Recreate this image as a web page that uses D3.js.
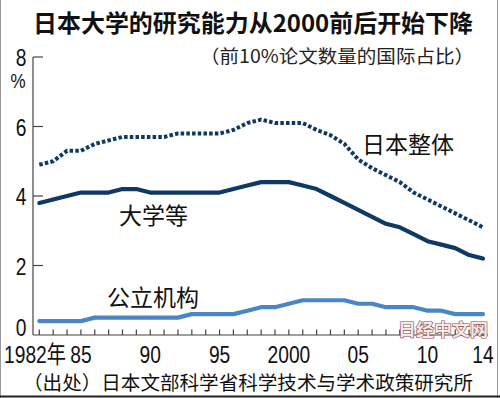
<!DOCTYPE html>
<html><head><meta charset="utf-8">
<script src="https://cdn.jsdelivr.net/npm/d3@7"></script>
<style>
html,body{margin:0;padding:0;background:#fff;}
svg{display:block;}
text{font-family:"Liberation Sans","Noto Sans CJK SC",sans-serif;}
.cjk{font-family:"Noto Sans CJK SC",sans-serif;}
</style></head>
<body>
<script>
const years = d3.range(1982, 2015);
const japanTotal = [4.9,5.0,5.3,5.3,5.5,5.6,5.7,5.7,5.7,5.7,5.8,5.8,5.8,5.8,5.9,6.1,6.2,6.1,6.1,6.1,5.9,5.75,5.5,5.05,4.8,4.6,4.4,4.1,3.9,3.7,3.5,3.3,3.1];
const universities = [3.8,3.9,4.0,4.1,4.1,4.1,4.2,4.2,4.1,4.1,4.1,4.1,4.1,4.1,4.2,4.3,4.4,4.4,4.4,4.3,4.2,4.0,3.8,3.6,3.4,3.2,3.1,2.9,2.7,2.6,2.5,2.3,2.2];
const publicInst = [0.4,0.4,0.4,0.4,0.5,0.5,0.5,0.5,0.5,0.5,0.5,0.6,0.6,0.6,0.6,0.7,0.8,0.8,0.9,1.0,1.0,1.0,1.0,0.9,0.9,0.8,0.8,0.8,0.7,0.7,0.6,0.6,0.6];
const yTicks = [0,2,4,6,8];
const xTickLabels = [[1982,"1982年"],[1985,"85"],[1990,"90"],[1995,"95"],[2000,"2000"],[2005,"05"],[2010,"10"],[2014,"14"]];
const title = "日本大学的研究能力从2000前后开始下降";
const subtitle = "（前10%论文数量的国际占比）";
const source = "（出处）日本文部科学省科学技术与学术政策研究所";

const W = 500, H = 398;
const svg = d3.select("body").append("svg").attr("width", W).attr("height", H);

// frame
svg.append("line").attr("x1",0.5).attr("x2",0.5).attr("y1",0).attr("y2",H).attr("stroke","#9a9a9a").attr("stroke-width",1);
svg.append("line").attr("x1",497.5).attr("x2",497.5).attr("y1",0).attr("y2",H).attr("stroke","#9a9a9a").attr("stroke-width",1);
svg.append("line").attr("x1",0).attr("x2",W).attr("y1",396.5).attr("y2",396.5).attr("stroke","#222").attr("stroke-width",2);

const x = d3.scaleLinear().domain([1982, 2014]).range([39.3, 483]);
const y = d3.scaleLinear().domain([0, 8]).range([335, 57]);

// title
svg.append("text").attr("class","cjk").attr("x",33).attr("y",32).attr("font-size",24).attr("font-weight","bold")
  .attr("fill","#111").attr("textLength",440).attr("lengthAdjust","spacingAndGlyphs").text(title);
svg.append("text").attr("class","cjk").attr("x",200).attr("y",63).attr("font-size",18.5)
  .attr("fill","#222").attr("textLength",274).attr("lengthAdjust","spacingAndGlyphs").text(subtitle);

// axes
const axisColor = "#444";
svg.append("line").attr("x1",33).attr("x2",33).attr("y1",y(8)).attr("y2",y(0)).attr("stroke",axisColor).attr("stroke-width",1.2);
svg.append("line").attr("x1",33).attr("x2",488).attr("y1",y(0)).attr("y2",y(0)).attr("stroke",axisColor).attr("stroke-width",1.2);
svg.selectAll(".yt").data(yTicks.filter(d=>d>0)).enter().append("line")
  .attr("x1",33).attr("x2",43).attr("y1",d=>y(d)).attr("y2",d=>y(d)).attr("stroke",axisColor).attr("stroke-width",1.2);
svg.selectAll(".xt").data(years).enter().append("line")
  .attr("x1",d=>x(d)).attr("x2",d=>x(d)).attr("y1",y(0)-5.5).attr("y2",y(0)).attr("stroke",axisColor).attr("stroke-width",1.2);

svg.selectAll(".yl").data(yTicks).enter().append("text")
  .attr("transform",d=>`translate(21,${d===0 ? y(d)+0.5 : y(d)+9}) scale(0.8,1)`)
  .attr("text-anchor","middle").attr("font-size",24).attr("fill","#111").text(d=>d);
svg.append("text").attr("transform","translate(18,88) scale(0.85,1)").attr("text-anchor","middle").attr("font-size",20).attr("fill","#111").text("%");

svg.selectAll(".xl").data(xTickLabels).enter().append("text")
  .attr("transform",d=>`translate(${d[0]===1982 ? 35 : x(d[0])},363) scale(0.8,1)`)
  .attr("text-anchor","middle").attr("font-size",24).attr("fill","#111")
  .text(d=>d[1]);

// source
svg.append("text").attr("class","cjk").attr("x",23).attr("y",390).attr("font-size",19.5).attr("fill","#111")
  .attr("textLength",450).attr("lengthAdjust","spacingAndGlyphs").text(source);

// lines
const line = d3.line().x((d,i)=>x(years[i])).y(d=>y(d));
svg.append("path").datum(publicInst).attr("d",line).attr("fill","none").attr("stroke","#4a86c6").attr("stroke-width",4.2).attr("stroke-linejoin","round").attr("stroke-linecap","round");
svg.append("path").datum(universities).attr("d",line).attr("fill","none").attr("stroke","#0e3964").attr("stroke-width",4.2).attr("stroke-linejoin","round").attr("stroke-linecap","round");
svg.append("path").datum(japanTotal).attr("d",line).attr("fill","none").attr("stroke","#0e3964").attr("stroke-width",4).attr("stroke-dasharray","3.5,2.2");

// series labels
svg.append("text").attr("class","cjk").attr("x",362).attr("y",153).attr("font-size",23).attr("fill","#111").text("日本整体");
svg.append("text").attr("class","cjk").attr("x",119).attr("y",224).attr("font-size",23).attr("fill","#111").text("大学等");
svg.append("text").attr("class","cjk").attr("x",107).attr("y",306).attr("font-size",23).attr("fill","#111").text("公立机构");

// watermark
svg.append("text").attr("class","cjk").attr("x",443).attr("y",336).attr("text-anchor","middle").attr("font-size",17.5).attr("font-weight","bold")
  .attr("fill","#f4e8e8").attr("stroke","#8b4a4a").attr("stroke-width",1.2).attr("paint-order","stroke")
  .attr("textLength",90).attr("lengthAdjust","spacingAndGlyphs").text("日经中文网");
</script>
</body></html>
